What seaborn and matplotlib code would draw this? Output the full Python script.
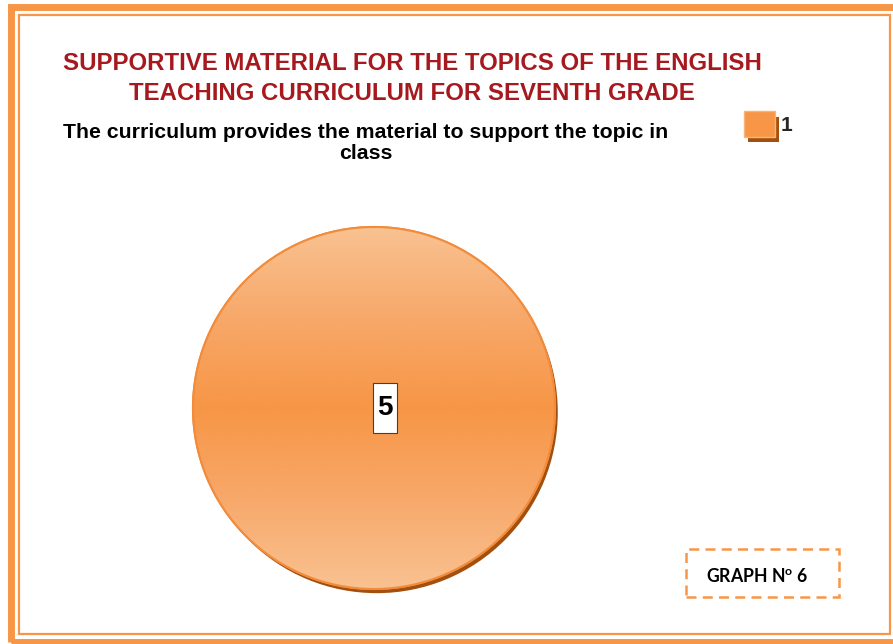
import numpy as np
import matplotlib
matplotlib.use("Agg")
import matplotlib.pyplot as plt
import seaborn as sns
from matplotlib.patches import Rectangle, Circle
from matplotlib.colors import LinearSegmentedColormap
import matplotlib.patheffects as pe

sns.set_theme(style="white")
plt.rcParams['font.family'] = ['Liberation Sans', 'DejaVu Sans']
plt.rcParams['mathtext.fontset'] = 'custom'
plt.rcParams['mathtext.bf'] = 'Lato:bold'
plt.rcParams['mathtext.rm'] = 'Lato:bold'

# ---- data ----
categories = ["1"]
values = [5]
title_lines = ["SUPPORTIVE MATERIAL FOR THE TOPICS OF THE ENGLISH",
               "TEACHING CURRICULUM FOR SEVENTH GRADE"]
subtitle_text = "The curriculum provides the material to support the topic in\nclass"
graph_label = "GRAPH N$^{\\mathbf{o}}$ 6"

W, H = 893, 644
fig = plt.figure(figsize=(W / 100, H / 100), dpi=100)
fig.patch.set_facecolor("white")

def fx(x): return x / W
def fy(y): return 1 - y / H

orange = "#F79646"

# borders
fig.add_artist(Rectangle((fx(11), fy(641.5)), fx(900) - fx(11), fy(6.5) - fy(641.5),
                         transform=fig.transFigure, fill=False, ec=orange, lw=5.0))
fig.add_artist(Rectangle((fx(19), fy(633.5)), fx(890) - fx(19), fy(14.5) - fy(633.5),
                         transform=fig.transFigure, fill=False, ec=orange, lw=1.6))

# titles
fig.text(fx(412), fy(63), title_lines[0], ha="center", va="center", color="#A6191E",
         fontsize=17.3, fontweight="bold")
fig.text(fx(412), fy(93), title_lines[1], ha="center", va="center", color="#A6191E",
         fontsize=17.3, fontweight="bold")
fig.text(fx(366), fy(143), subtitle_text, ha="center", va="center", color="black",
         fontsize=15.3, fontweight="bold", linespacing=1.1)

# pie axes
cx, cy, r = 374, 408, 181
ax = fig.add_axes([fx(cx - r), fy(cy + r), (2 * r) / W, (2 * r) / H])

wedges, texts = ax.pie(values, labels=[str(v) for v in values], radius=1.0,
                       colors=[orange], startangle=90, counterclock=False,
                       labeldistance=0.0,
                       wedgeprops=dict(edgecolor="#F28C3C", linewidth=1.5, clip_on=False),
                       textprops=dict(fontsize=20, fontweight="bold", color="black"))
wedges[0].set_path_effects([pe.SimplePatchShadow(offset=(2, -3), shadow_rgbFace="#A3500F", alpha=1.0),
                            pe.Normal()])
ax.set_xlim(-1, 1)
ax.set_ylim(-1, 1)
ax.set_aspect("auto")
ax.axis("off")

# gradient fill clipped to the wedge
cmap = LinearSegmentedColormap.from_list("g", ["#F9C291", "#F7A86A", "#F79646", "#F7A86A", "#F9C291"])
grad = np.linspace(0, 1, 256).reshape(-1, 1)
im = ax.imshow(grad, cmap=cmap, extent=[-1, 1, -1, 1], aspect="auto",
               zorder=wedges[0].get_zorder() + 0.1, origin="lower", interpolation="bicubic")
im.set_clip_path(wedges[0])
ax.add_patch(Circle((0, 0), 1.0, fill=False, ec="#F28C3C", lw=1.5, clip_on=False,
                    zorder=im.get_zorder() + 0.1))

for t in texts:
    t.set_text("\n" + t.get_text() + "\n")
    t.set_linespacing(0.07)
    t.set_position((0.06, 0.0))
    t.set_ha("center")
    t.set_va("center")
    t.set_zorder(10)
    t.set_bbox(dict(boxstyle="square,pad=0.16", fc="white", ec="#404040", lw=0.8))

# legend
handle = Rectangle((0, 0), 1, 1, fc=orange, ec="#F9B47E", lw=1,
                   path_effects=[pe.SimplePatchShadow(offset=(3, -4), shadow_rgbFace="#A3500F", alpha=1.0),
                                 pe.Normal()])
leg = fig.legend(handles=[handle], labels=categories, loc="center",
                 bbox_to_anchor=(fx(768), fy(124)),
                 frameon=False, handlelength=1.5, handleheight=1.5, handletextpad=0.25,
                 prop=dict(size=15, weight="bold"))

# graph label box
fig.add_artist(Rectangle((fx(686), fy(597)), fx(839) - fx(686), fy(549) - fy(597),
                         transform=fig.transFigure, fill=False, ec=orange, lw=1.8,
                         ls=(0, (4, 2.5))))
fig.text(fx(757), fy(576), graph_label, ha="center", va="center", fontsize=12.7,
         fontweight="bold", family=["Lato", "DejaVu Sans"], color="black")

fig.savefig("out.png", dpi=100, facecolor="white")
